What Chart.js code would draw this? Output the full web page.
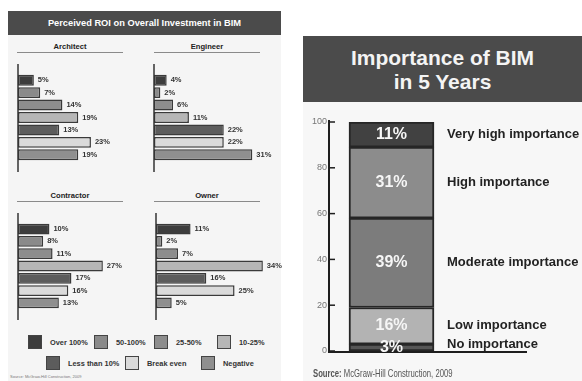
<!DOCTYPE html>
<html><head><meta charset="utf-8">
<script src="https://cdn.jsdelivr.net/npm/chart.js@4.4.0/dist/chart.umd.min.js"></script>
<style>
html,body{margin:0;padding:0;background:#fff;width:582px;height:381px;overflow:hidden;font-family:"Liberation Sans",Arial,sans-serif;}
.abs{position:absolute;}
#leftPanel{left:8px;top:11px;width:273px;height:370px;background:#f5f5f5;}
#leftTitle{left:8px;top:11px;width:273px;height:24px;background:#4b4b4b;color:#fff;font-weight:bold;font-size:9.3px;line-height:24px;text-align:center;}
.sub{position:absolute;width:106px;height:10px;border-bottom:1px solid #8a8a8a;font-weight:bold;font-size:7.6px;line-height:10px;text-align:center;color:#222;}
#rightPanel{left:303px;top:102px;width:279px;height:279px;background:#f7f7f7;}
#rightTitle{left:303px;top:36px;width:279px;height:66px;background:#4b4b4b;color:#f4f4f4;font-weight:bold;font-size:21px;line-height:24px;text-align:center;box-sizing:border-box;padding-top:10px;}
.leg{position:absolute;height:14px;display:flex;align-items:center;white-space:nowrap;}
.leg .sq{width:12px;height:12px;border:1px solid #444;margin-right:8px;flex:none;}
.leg .tx{font-weight:bold;font-size:7.4px;color:#333;}
#srcLeft{left:10px;top:374px;font-size:4px;color:#777;white-space:nowrap;}
#srcRight{left:313px;top:367px;font-size:11px;color:#555;white-space:nowrap;transform:scaleX(0.7);transform-origin:0 0;}
canvas{position:absolute;}
</style></head>
<body>
<div id="leftPanel" class="abs"></div>
<div id="leftTitle" class="abs">Perceived ROI on Overall Investment in BIM</div>
<div class="sub" style="left:17px;top:42px;">Architect</div>
<div class="sub" style="left:154px;top:42px;">Engineer</div>
<div class="sub" style="left:17px;top:191px;">Contractor</div>
<div class="sub" style="left:154px;top:191px;">Owner</div>
<canvas id="cArch" width="135" height="109" style="left:16px;top:63px;"></canvas>
<canvas id="cEng" width="135" height="109" style="left:152px;top:63px;"></canvas>
<canvas id="cCon" width="134" height="108" style="left:16px;top:212px;"></canvas>
<canvas id="cOwn" width="134" height="108" style="left:154px;top:212px;"></canvas>
<div id="legend"></div>
<div id="srcLeft" class="abs">Source: McGraw-Hill Construction, 2009</div>

<div id="rightPanel" class="abs"></div>
<div id="rightTitle" class="abs">Importance of BIM<br>in 5 Years</div>
<canvas id="cImp" width="279" height="279" style="left:303px;top:102px;"></canvas>
<div id="srcRight" class="abs"><b>Source:</b> McGraw-Hill Construction, 2009</div>

<script>
// ---- Data ----
const categories = ['Over 100%','50-100%','25-50%','10-25%','Less than 10%','Break even','Negative'];
const architect = [5,7,14,19,13,23,19];
const engineer = [4,2,6,11,22,22,31];
const contractor = [10,8,11,27,17,16,13];
const owner = [11,2,7,34,16,25,5];
const roiColors = ['#3d3d3d','#8a8a8a','#8d8d8d','#b6b6b6','#5c5c5c','#dadada','#8f8f8f'];

const importanceLevels = ['No importance','Low importance','Moderate importance','High importance','Very high importance'];
const importanceValues = [3,16,39,31,11];
const importanceColors = ['#565656','#b3b3b3','#7c7c7c','#8c8c8c','#414141'];

// ---- Legend (layout slots) ----
const legendSlots = [[28,335],[94,335],[154,335],[217,335],[46,356],[125,356],[201,356]];
const legEl = document.getElementById('legend');
categories.forEach((c,i)=>{
  const d = document.createElement('div');
  d.className='leg';
  d.style.left = legendSlots[i][0]+'px';
  d.style.top = legendSlots[i][1]+'px';
  d.innerHTML = '<span class="sq" style="background:'+roiColors[i]+'"></span><span class="tx">'+c+'</span>';
  legEl.appendChild(d);
});

const smallPlugin = {
  id:'smallPlugin',
  afterDatasetsDraw(chart){
    const {ctx, chartArea} = chart;
    ctx.save();
    ctx.strokeStyle = '#333';
    ctx.lineWidth = 1.5;
    ctx.beginPath();
    ctx.moveTo(chartArea.left, chartArea.top - 10);
    ctx.lineTo(chartArea.left, chartArea.bottom + 11);
    ctx.stroke();
    ctx.fillStyle = '#333';
    ctx.font = 'bold 7.5px "Liberation Sans", Arial, sans-serif';
    ctx.textBaseline = 'middle';
    ctx.textAlign = 'left';
    const meta = chart.getDatasetMeta(0);
    meta.data.forEach((el,i)=>{
      ctx.fillText(chart.data.datasets[0].data[i] + '%', el.x + 4, el.y);
    });
    ctx.restore();
  }
};

function smallChart(id, values){
  new Chart(document.getElementById(id), {
    type:'bar',
    data:{labels:categories, datasets:[{data:values, backgroundColor:roiColors, borderColor:'#3a3a3a', borderWidth:1.5, borderSkipped:false, categoryPercentage:1, barPercentage:0.88}]},
    options:{indexAxis:'y', responsive:false, animation:false, events:[],
      layout:{padding:{left:2,right:22,top:11,bottom:11}},
      plugins:{legend:{display:false}, tooltip:{enabled:false}},
      scales:{x:{display:false,min:0,max:35}, y:{display:false}}},
    plugins:[smallPlugin]
  });
}
smallChart('cArch', architect);
smallChart('cEng', engineer);
smallChart('cCon', contractor);
smallChart('cOwn', owner);

const rightPlugin = {
  id:'rightPlugin',
  afterDatasetsDraw(chart){
    const {ctx, chartArea, scales} = chart;
    const y = scales.y;
    ctx.save();
    ctx.strokeStyle = '#1e1e1e';
    ctx.lineWidth = 2;
    ctx.beginPath();
    ctx.moveTo(chartArea.left, y.getPixelForValue(100) - 2);
    ctx.lineTo(chartArea.left, chartArea.bottom + 2);
    ctx.stroke();
    ctx.lineWidth = 1.5;
    y.ticks.forEach(t=>{
      const py = y.getPixelForValue(t.value);
      ctx.beginPath();
      ctx.moveTo(chartArea.left, py);
      ctx.lineTo(chartArea.left + 6, py);
      ctx.stroke();
    });
    ctx.lineWidth = 2;
    ctx.beginPath();
    ctx.moveTo(chartArea.left - 1, chartArea.bottom + 1);
    ctx.lineTo(chartArea.left + 198, chartArea.bottom + 1);
    ctx.stroke();
    ctx.textBaseline = 'middle';
    chart.data.datasets.forEach((ds,i)=>{
      const el = chart.getDatasetMeta(i).data[0];
      const cy = (el.y + el.base)/2;
      ctx.fillStyle = '#f6f6f6';
      ctx.font = 'bold 16px "Liberation Sans", Arial, sans-serif';
      ctx.textAlign = 'center';
      ctx.fillText(ds.data[0] + '%', el.x, cy);
      ctx.fillStyle = '#222';
      ctx.font = 'bold 13px "Liberation Sans", Arial, sans-serif';
      ctx.textAlign = 'left';
      ctx.fillText(ds.label, el.x + el.width/2 + 13, Math.min(cy, el.base - 7));
    });
    ctx.restore();
  }
};

new Chart(document.getElementById('cImp'), {
  type:'bar',
  data:{labels:[''], datasets: importanceLevels.map((l,i)=>({label:l, data:[importanceValues[i]], backgroundColor:importanceColors[i], borderColor:'#262626', borderWidth:2, borderSkipped:false, barThickness:85}))},
  options:{responsive:false, animation:false, events:[],
    layout:{padding:{left:0,right:128,top:20,bottom:30}},
    plugins:{legend:{display:false}, tooltip:{enabled:false}},
    scales:{
      x:{display:false, stacked:true},
      y:{stacked:true, min:0, max:100, afterFit(s){ s.width = 26; },
         ticks:{stepSize:20, padding:2, color:'#777', font:{size:9, family:'"Liberation Sans", Arial, sans-serif'}},
         grid:{display:false, drawTicks:false},
         border:{display:false}}
    }
  },
  plugins:[rightPlugin]
});
</script>
</body></html>
